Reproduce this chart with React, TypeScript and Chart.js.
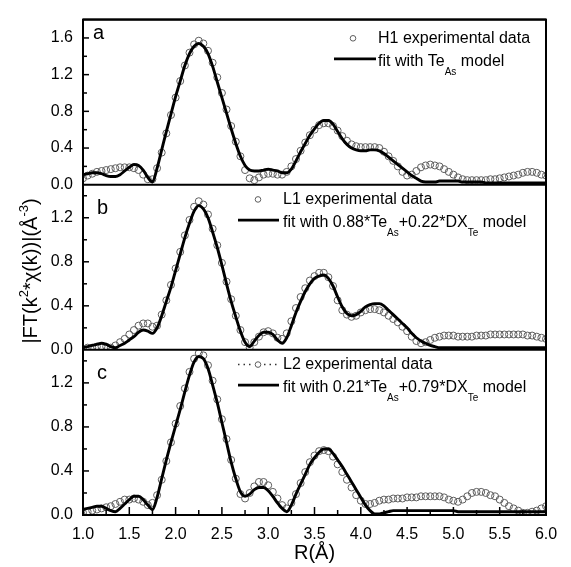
import React, { useEffect, useRef } from 'react';
import { Chart, registerables } from 'chart.js';

Chart.register(...registerables);

const FONT = "'Liberation Sans', Arial, Helvetica, sans-serif";

// R grid (Å)
const R = [
  1.00, 1.05, 1.10, 1.15, 1.20, 1.25, 1.30, 1.35, 1.40, 1.45,
  1.50, 1.55, 1.60, 1.65, 1.70, 1.75, 1.80, 1.85, 1.90, 1.95,
  2.00, 2.05, 2.10, 2.15, 2.20, 2.25, 2.30, 2.35, 2.40, 2.45,
  2.50, 2.55, 2.60, 2.65, 2.70, 2.75, 2.80, 2.85, 2.90, 2.95,
  3.00, 3.05, 3.10, 3.15, 3.20, 3.25, 3.30, 3.35, 3.40, 3.45,
  3.50, 3.55, 3.60, 3.65, 3.70, 3.75, 3.80, 3.85, 3.90, 3.95,
  4.00, 4.05, 4.10, 4.15, 4.20, 4.25, 4.30, 4.35, 4.40, 4.45,
  4.50, 4.55, 4.60, 4.65, 4.70, 4.75, 4.80, 4.85, 4.90, 4.95,
  5.00, 5.05, 5.10, 5.15, 5.20, 5.25, 5.30, 5.35, 5.40, 5.45,
  5.50, 5.55, 5.60, 5.65, 5.70, 5.75, 5.80, 5.85, 5.90, 5.95,
  6.00,
];

// Panel a: H1
const FIT_A = [
  0.11, 0.12, 0.13, 0.13, 0.12, 0.10, 0.09, 0.09, 0.11, 0.15,
  0.19, 0.22, 0.21, 0.16, 0.08, 0.03, 0.18, 0.38, 0.58, 0.77,
  0.96, 1.13, 1.30, 1.43, 1.51, 1.54, 1.51, 1.43, 1.29, 1.12,
  0.95, 0.78, 0.61, 0.45, 0.31, 0.21, 0.16, 0.15, 0.15, 0.16,
  0.17, 0.16, 0.15, 0.13, 0.13, 0.17, 0.26, 0.36, 0.45, 0.54,
  0.61, 0.67, 0.70, 0.70, 0.66, 0.58, 0.50, 0.44, 0.40, 0.38,
  0.37, 0.37, 0.38, 0.38, 0.37, 0.34, 0.30, 0.26, 0.22, 0.18,
  0.14, 0.10, 0.07, 0.04, 0.03, 0.03, 0.03, 0.04, 0.04, 0.04,
  0.04, 0.04, 0.03, 0.03, 0.03, 0.03, 0.03, 0.02, 0.02, 0.02,
  0.02, 0.02, 0.02, 0.02, 0.02, 0.02, 0.02, 0.02, 0.02, 0.02,
  0.02,
];
const EXP_A = [
  0.07, 0.10, 0.12, 0.14, 0.15, 0.16, 0.17, 0.18, 0.19, 0.19,
  0.19, 0.18, 0.16, 0.11, 0.06, 0.06, 0.18, 0.35, 0.56, 0.76,
  0.95, 1.13, 1.30, 1.44, 1.53, 1.57, 1.54, 1.46, 1.33, 1.17,
  1.00, 0.82, 0.64, 0.47, 0.31, 0.16, 0.07, 0.05, 0.08, 0.11,
  0.12, 0.12, 0.11, 0.11, 0.14, 0.20, 0.28, 0.37, 0.46, 0.54,
  0.60, 0.65, 0.67, 0.67, 0.64, 0.59, 0.53, 0.48, 0.44, 0.42,
  0.41, 0.41, 0.41, 0.41, 0.40, 0.36, 0.31, 0.26, 0.20, 0.14,
  0.10, 0.11, 0.15, 0.19, 0.21, 0.22, 0.21, 0.20, 0.17, 0.14,
  0.11, 0.08, 0.06, 0.05, 0.05, 0.05, 0.05, 0.05, 0.06, 0.06,
  0.07, 0.08, 0.09, 0.10, 0.11, 0.13, 0.14, 0.14, 0.13, 0.11,
  0.10,
];

// Panel b: L1
const FIT_B = [
  0.02, 0.03, 0.04, 0.05, 0.06, 0.05, 0.03, 0.02, 0.04, 0.06,
  0.09, 0.12, 0.16, 0.18, 0.17, 0.15, 0.20, 0.31, 0.44, 0.57,
  0.72, 0.87, 1.02, 1.15, 1.26, 1.31, 1.28, 1.20, 1.07, 0.93,
  0.77, 0.60, 0.44, 0.30, 0.17, 0.07, 0.03, 0.08, 0.13, 0.16,
  0.16, 0.14, 0.09, 0.06, 0.11, 0.22, 0.34, 0.44, 0.53, 0.60,
  0.65, 0.67, 0.68, 0.65, 0.58, 0.48, 0.39, 0.33, 0.31, 0.32,
  0.35, 0.39, 0.41, 0.42, 0.42, 0.40, 0.36, 0.32, 0.28, 0.24,
  0.20, 0.15, 0.11, 0.08, 0.06, 0.04, 0.03, 0.02, 0.02, 0.02,
  0.02, 0.02, 0.02, 0.02, 0.02, 0.02, 0.02, 0.02, 0.02, 0.02,
  0.02, 0.02, 0.02, 0.02, 0.02, 0.02, 0.02, 0.02, 0.02, 0.02,
  0.02,
];
const EXP_B = [
  0.01, 0.02, 0.02, 0.03, 0.03, 0.03, 0.02, 0.04, 0.07, 0.10,
  0.14, 0.18, 0.22, 0.24, 0.24, 0.21, 0.22, 0.32, 0.45, 0.59,
  0.74, 0.89, 1.04, 1.18, 1.30, 1.35, 1.32, 1.23, 1.10, 0.95,
  0.79, 0.62, 0.46, 0.31, 0.18, 0.07, 0.02, 0.07, 0.12, 0.16,
  0.17, 0.15, 0.11, 0.10, 0.15, 0.26, 0.38, 0.48, 0.56, 0.63,
  0.67, 0.70, 0.70, 0.66, 0.58, 0.45, 0.36, 0.32, 0.30, 0.31,
  0.34, 0.36, 0.37, 0.37, 0.36, 0.34, 0.31, 0.28, 0.25, 0.21,
  0.17, 0.12, 0.08, 0.06, 0.07, 0.09, 0.11, 0.12, 0.13, 0.13,
  0.13, 0.12, 0.12, 0.12, 0.12, 0.13, 0.13, 0.13, 0.14, 0.14,
  0.14, 0.14, 0.14, 0.14, 0.14, 0.14, 0.13, 0.13, 0.12, 0.11,
  0.10,
];

// Panel c: L2
const FIT_C = [
  0.05, 0.06, 0.07, 0.08, 0.08, 0.06, 0.04, 0.03, 0.06, 0.10,
  0.14, 0.17, 0.17, 0.14, 0.09, 0.05, 0.16, 0.33, 0.50, 0.66,
  0.81, 0.96, 1.12, 1.27, 1.39, 1.44, 1.42, 1.33, 1.18, 1.02,
  0.84, 0.66, 0.48, 0.33, 0.21, 0.17, 0.19, 0.23, 0.25, 0.25,
  0.22, 0.17, 0.11, 0.06, 0.03, 0.09, 0.19, 0.28, 0.37, 0.46,
  0.52, 0.57, 0.60, 0.60, 0.56, 0.50, 0.44, 0.37, 0.30, 0.23,
  0.16, 0.09, 0.04, 0.01, 0.01, 0.02, 0.03, 0.04, 0.04, 0.04,
  0.04, 0.04, 0.04, 0.04, 0.04, 0.04, 0.04, 0.04, 0.04, 0.04,
  0.04, 0.03, 0.03, 0.03, 0.03, 0.03, 0.03, 0.03, 0.03, 0.03,
  0.03, 0.03, 0.03, 0.03, 0.03, 0.03, 0.03, 0.03, 0.03, 0.03,
  0.03,
];
const EXP_C = [
  0.02, 0.03, 0.04, 0.05, 0.06, 0.07, 0.08, 0.10, 0.12, 0.14,
  0.14, 0.15, 0.14, 0.12, 0.09, 0.11, 0.18, 0.32, 0.49, 0.66,
  0.83, 0.99, 1.15, 1.30, 1.42, 1.47, 1.45, 1.36, 1.22, 1.05,
  0.87, 0.69, 0.50, 0.33, 0.19, 0.15, 0.20, 0.26, 0.30, 0.30,
  0.27, 0.21, 0.15, 0.09, 0.06, 0.11, 0.19, 0.29, 0.39, 0.48,
  0.54, 0.58, 0.59, 0.58, 0.53, 0.46, 0.39, 0.32, 0.25, 0.18,
  0.13, 0.10, 0.10, 0.11, 0.13, 0.14, 0.14, 0.15, 0.15, 0.15,
  0.16, 0.16, 0.16, 0.17, 0.17, 0.17, 0.17, 0.17, 0.16, 0.14,
  0.13, 0.12, 0.14, 0.17, 0.20, 0.21, 0.21, 0.20, 0.18, 0.17,
  0.14, 0.11, 0.08, 0.06, 0.04, 0.02, 0.02, 0.03, 0.04, 0.06,
  0.08,
];

const X_TICKS = [1.0, 1.5, 2.0, 2.5, 3.0, 3.5, 4.0, 4.5, 5.0, 5.5, 6.0];
const Y_TICKS_A = [0, 0.4, 0.8, 1.2, 1.6];
const Y_TICKS_BC = [0, 0.4, 0.8, 1.2];
const Y_MAX_A = 1.8;
const Y_MAX_BC = 1.5;

const PANEL_LABELS = ['a', 'b', 'c'];
const EXP_LABELS = ['H1 experimental data', 'L1 experimental data', 'L2 experimental data'];
// rich text parts: [text, isSubscript]
const FIT_LABELS: [string, boolean][][] = [
  [['fit with Te', false], ['As', true], [' model', false]],
  [['fit with 0.88*Te', false], ['As', true], ['+0.22*DX', false], ['Te', true], [' model', false]],
  [['fit with 0.21*Te', false], ['As', true], ['+0.79*DX', false], ['Te', true], [' model', false]],
];
const Y_TITLE: [string, boolean][] = [
  ['|FT(k', false], ['2', true], ['*\u03C7(k))|(\u00C5', false], ['-3', true], [')', false],
];
const X_TITLE = 'R(\u00C5)';

const CIRCLE_COLOR = '#5e5e5e';

function drawRich(ctx: CanvasRenderingContext2D, parts: [string, boolean][], x: number, y: number, size: number, smallSize: number, shift: number) {
  let cx = x;
  for (const [t, small] of parts) {
    ctx.font = `${small ? smallSize : size}px ${FONT}`;
    ctx.fillText(t, cx, small ? y + shift : y);
    cx += ctx.measureText(t).width;
  }
  return cx - x;
}
function richWidth(ctx: CanvasRenderingContext2D, parts: [string, boolean][], size: number, smallSize: number) {
  let w = 0;
  for (const [t, small] of parts) {
    ctx.font = `${small ? smallSize : size}px ${FONT}`;
    w += ctx.measureText(t).width;
  }
  return w;
}

const decorPlugin = {
  id: 'decor',
  afterDraw(chart: any) {
    const ctx: CanvasRenderingContext2D = chart.ctx;
    const ca = chart.chartArea;
    const xs = chart.scales.x;
    const ids = ['yA', 'yB', 'yC'];
    ctx.save();
    ctx.strokeStyle = '#000';
    ctx.fillStyle = '#000';
    const line = (x1: number, y1: number, x2: number, y2: number) => {
      ctx.beginPath();
      ctx.moveTo(x1, y1);
      ctx.lineTo(x2, y2);
      ctx.stroke();
    };
    // y ticks (inward)
    ctx.lineWidth = 1.5;
    ids.forEach((id) => {
      const s = chart.scales[id];
      const n = Math.round(s.max / 0.2);
      for (let i = 1; i <= n; i++) {
        const y = s.getPixelForValue(i * 0.2);
        if (y < s.top + 1) continue;
        line(ca.left, y, ca.left + (i % 2 === 0 ? 6 : 4), y);
      }
    });
    // x ticks (inward, bottom)
    for (let i = 1; i < 20; i++) {
      const px = xs.getPixelForValue(1 + i * 0.25);
      line(px, ca.bottom, px, ca.bottom - (i % 2 === 0 ? 8 : 5));
    }
    // panel separators and frame
    ctx.lineWidth = 2;
    ids.forEach((id) => {
      const s = chart.scales[id];
      line(ca.left, s.top, ca.right, s.top);
    });
    ctx.strokeRect(ca.left, ca.top, ca.right - ca.left, ca.bottom - ca.top);

    // panel letters and legends
    ctx.textBaseline = 'alphabetic';
    ctx.textAlign = 'left';
    ids.forEach((id, k) => {
      const s = chart.scales[id];
      const top = s.top;
      const dy = k === 0 ? 4 : 0;
      ctx.font = `20px ${FONT}`;
      ctx.fillText(PANEL_LABELS[k], ca.left + (k === 0 ? 10 : 14), top + (k === 0 ? 19 : 29));

      const lx = k === 0 ? ca.left + 295 : ca.left + 200;
      const symX = k === 0 ? ca.left + 270 : ca.left + 175;
      const lineX1 = k === 0 ? ca.left + 251 : ca.left + 155;
      const lineX2 = k === 0 ? ca.left + 293 : ca.left + 196;
      if (k === 2) {
        ctx.save();
        ctx.strokeStyle = '#333';
        ctx.lineWidth = 1.5;
        ctx.setLineDash([1.5, 4]);
        line(lineX1, top + 14.7 + dy, symX - 5, top + 14.7 + dy);
        line(symX + 6, top + 14.7 + dy, lineX2, top + 14.7 + dy);
        ctx.restore();
      }
      ctx.save();
      ctx.strokeStyle = CIRCLE_COLOR;
      ctx.lineWidth = 1;
      ctx.beginPath();
      ctx.arc(symX, top + 14.7 + dy, 2.8, 0, Math.PI * 2);
      ctx.stroke();
      ctx.restore();
      ctx.font = `16px ${FONT}`;
      ctx.fillText(EXP_LABELS[k], lx, top + 19.5 + dy);
      ctx.save();
      ctx.lineWidth = 2.8;
      line(lineX1, top + 35.3 + dy, lineX2, top + 35.3 + dy);
      ctx.restore();
      drawRich(ctx, FIT_LABELS[k], lx, top + 42.5 + dy, 16, 10, 9);
    });

    // y title
    ctx.save();
    ctx.translate(ca.left - 46, 271);
    ctx.rotate(-Math.PI / 2);
    const w = richWidth(ctx, Y_TITLE, 20, 13);
    drawRich(ctx, Y_TITLE, -w / 2, 0, 20, 13, -9);
    ctx.restore();
    ctx.restore();
  },
};

export default function App() {
  const ref = useRef<HTMLCanvasElement>(null);
  useEffect(() => {
    const pts = (ys: number[]) => R.map((x, i) => ({ x, y: ys[i] }));
    const fit = (ys: number[], axis: string) => ({
      data: pts(ys),
      yAxisID: axis,
      borderColor: '#000',
      borderWidth: 2.9,
      pointRadius: 0,
      cubicInterpolationMode: 'monotone' as const,
      fill: false,
    });
    const exp = (ys: number[], axis: string) => ({
      data: pts(ys),
      yAxisID: axis,
      showLine: false,
      pointStyle: 'circle' as const,
      pointRadius: 3.5,
      pointBorderWidth: 1,
      borderColor: CIRCLE_COLOR,
      pointBorderColor: CIRCLE_COLOR,
      backgroundColor: 'rgba(0,0,0,0)',
      pointBackgroundColor: 'rgba(0,0,0,0)',
    });
    const yAxis = (max: number, ticks: number[]) => ({
      type: 'linear' as const,
      position: 'left' as const,
      stack: 'panels',
      stackWeight: 1,
      min: 0,
      max,
      grid: { display: false, drawTicks: false },
      border: { display: false },
      ticks: {
        color: '#000',
        font: { family: FONT, size: 16 },
        padding: 10,
        callback: (v: any) => Number(v).toFixed(1),
      },
      afterBuildTicks: (s: any) => {
        s.ticks = ticks.map((v) => ({ value: v }));
      },
      afterFit: (s: any) => {
        s.width = 83;
      },
    });
    const chart = new Chart(ref.current!, {
      type: 'line',
      data: {
        datasets: [
          fit(FIT_A, 'yA'),
          fit(FIT_B, 'yB'),
          fit(FIT_C, 'yC'),
          exp(EXP_A, 'yA'),
          exp(EXP_B, 'yB'),
          exp(EXP_C, 'yC'),
        ] as any,
      },
      options: {
        responsive: false,
        devicePixelRatio: 1,
        animation: false,
        layout: { padding: { left: 0, right: 25, top: 9, bottom: 0 } },
        plugins: { legend: { display: false }, tooltip: { enabled: false }, title: { display: false } },
        scales: {
          x: {
            type: 'linear',
            position: 'bottom',
            min: 1,
            max: 6,
            grid: { display: false, drawTicks: false },
            border: { display: false },
            ticks: {
              color: '#000',
              font: { family: FONT, size: 16 },
              padding: 10,
              maxRotation: 0,
              autoSkip: false,
              callback: (v: any) => Number(v).toFixed(1),
            },
            afterBuildTicks: (s: any) => {
              s.ticks = X_TICKS.map((v) => ({ value: v }));
            },
            afterFit: (s: any) => {
              s.height = 52;
            },
            title: {
              display: true,
              text: X_TITLE,
              color: '#000',
              font: { family: FONT, size: 20 },
              padding: { top: 0, bottom: 2 },
            },
          },
          yC: yAxis(Y_MAX_BC, Y_TICKS_BC),
          yB: yAxis(Y_MAX_BC, Y_TICKS_BC),
          yA: yAxis(Y_MAX_A, Y_TICKS_A),
        } as any,
      },
      plugins: [decorPlugin],
    });
    return () => chart.destroy();
  }, []);
  return (
    <div style={{ position: 'fixed', left: 0, top: 0, width: 571, height: 567, background: '#fff' }}>
      <canvas ref={ref} width={571} height={567} style={{ display: 'block' }} />
    </div>
  );
}
